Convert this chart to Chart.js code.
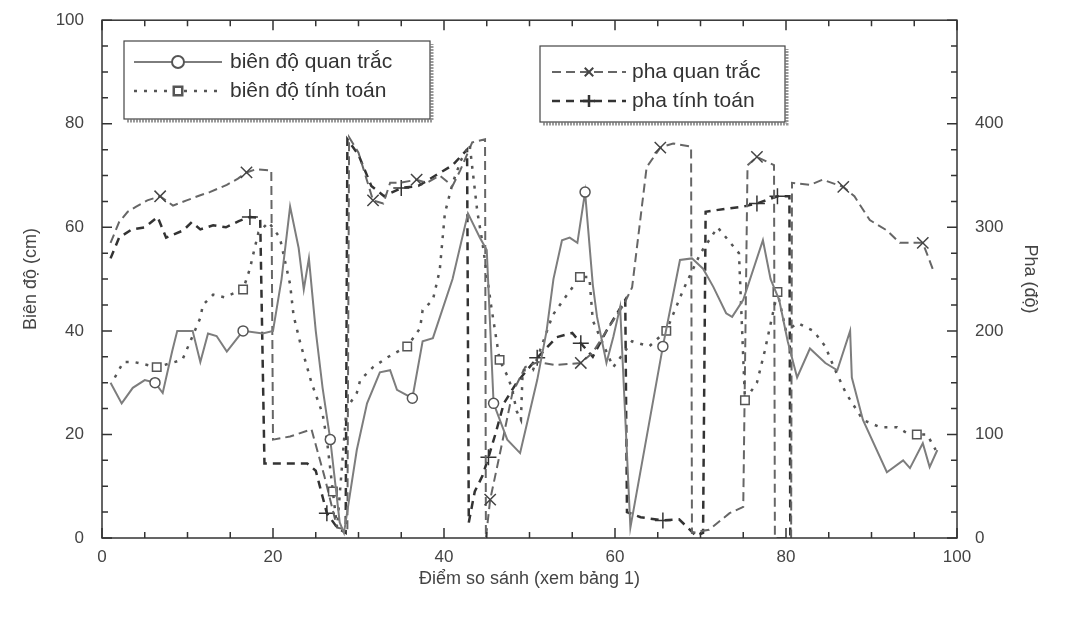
<!DOCTYPE html>
<html>
<head>
<meta charset="utf-8">
<script src="https://cdn.jsdelivr.net/npm/chart.js@4"></script>
<style>
  html, body { margin: 0; padding: 0; background: #fff; }
</style>
</head>
<body>
<canvas id="phaseChart" width="1073" height="621"></canvas>
<script>
// biên độ quan trắc (cm)
const ampObsX = [1, 2.3, 3.6, 5, 6.2, 7.1, 8.2, 8.8, 10.6, 11.5, 12.4, 13.4, 14.6, 16.5, 18.8,
  20, 21, 22, 23, 23.6, 24.2, 25, 25.8, 26.7, 27.8, 28.3, 29.8, 31, 32.5, 33.7,
  34.5, 36.3, 37.5, 38.7, 41, 42.8, 44.2, 45, 45.8, 47.4, 48.9, 50.9, 52, 52.8, 53.8,
  54.7, 55.6, 56.5, 57.4, 57.9, 59, 59.8, 60.6, 61.8, 65.6, 67.6, 69, 70.3, 71.5, 73,
  73.7, 75, 77.3, 78.2, 79.2, 80.2, 81.3, 82.8, 84.6, 86, 87.5, 87.7, 89, 91.8, 93.7,
  94.5, 96, 96.8, 97.7];
const ampObs = [30, 26, 29, 30.5, 30, 28, 36, 40, 40, 34, 39.5, 39, 36, 40, 39.5,
  40, 50, 64, 56, 48, 54, 40, 29, 19, 3, 1, 17, 26, 32, 32.4,
  28.6, 27, 38, 38.6, 50, 62.7, 58, 55.6, 26, 19, 16.4, 30.5, 40, 50, 57.5,
  58, 57, 66.8, 49, 42.7, 33.8, 38.8, 44.6, 2, 37, 53.7, 54, 52, 48.5, 43.4,
  42.7, 46, 57.5, 50, 46, 38, 31, 36.6, 33.8, 32.4, 40, 31, 22.8, 12.7, 15,
  13.5, 18.3, 13.7, 17];

// biên độ tính toán (cm)
const ampCalcX = [1.5, 2.5, 3.7, 6.4, 9.4, 11.5, 11.8, 13, 14.3, 16.5, 17.3, 17.8, 18.3, 19.5, 20.8,
  22, 22.4, 23.2, 24.5, 25.8, 26.3, 27, 27.5, 28.6, 29.8, 30.2, 31.7, 33.5, 35.7, 37.2,
  37.5, 38.7, 39.5, 40.1, 41, 42, 43, 43.9, 44.5, 45.5, 46.5, 47.5, 48, 48.5, 49,
  49.2, 50.4, 52.7, 53.8, 55.9, 57, 57.4, 59.8, 62, 64, 66, 68, 70, 72, 74.5,
  75.2, 76.6, 77.5, 79, 80, 81.4, 83.2, 84.6, 85.6, 87, 89, 91, 93, 94.5, 95.3,
  96.5, 97.5];
const ampCalc = [31, 34, 34, 33, 34.4, 42.5, 45, 47, 46.5, 48, 52, 55.6, 59, 61, 58,
  49, 43, 37.6, 30, 24, 19, 9, 2, 25, 28, 30.5, 33, 35, 37, 40.5,
  44, 46, 51.7, 62.7, 68.5, 73, 76, 63, 57, 45, 34.4, 31, 28.5, 24.5, 22.8,
  32.4, 32.4, 43, 45.6, 50.4, 50.4, 42, 33, 38, 37, 40, 48, 55, 60, 55,
  26.6, 30, 36, 47.5, 40, 41.5, 40, 37, 33, 28, 22.8, 21.4, 21.4, 19.9, 20,
  20, 17];

// pha quan trắc (độ)
const phaseObsX = [1, 2, 3, 4, 5.3, 6.8, 8.3, 9.9, 11.5, 12.6, 14.6, 15.9, 16.9, 18, 19.8,
  20, 22, 24.5, 26, 27.5, 28.7, 28.9, 30, 31, 31.7, 32.9, 33.7, 34.9, 36.8, 38,
  39.5, 41, 41.9, 43.3, 44.8, 44.9, 45.4, 46.5, 48, 49.5, 51, 53, 56, 57.4, 59,
  61, 62, 63.7, 65.3, 66.8, 68.9, 69, 71, 73.4, 75, 75.5, 76.6, 78.6, 78.7, 80.6,
  80.7, 82.8, 84.3, 86.7, 88, 89.8, 91.8, 93.3, 96, 97.2];
const phaseObs = [285, 305, 315, 320, 326, 330, 321, 326, 331, 334, 341, 347, 353, 356, 355,
  95, 98, 105, 60, 10, 8, 387, 372, 345, 326, 323, 343, 343, 346, 343,
  350, 340, 355, 382, 385, 0, 37, 80, 140, 165, 170, 167, 169, 179, 200,
  225, 242, 358, 377, 381, 378, 5, 8, 24, 30, 360, 368, 360, 0, 0,
  343, 341, 346, 339, 330, 307, 297, 285, 285, 259];

// pha tính toán (độ)
const phaseCalcX = [1, 2, 3.5, 5, 6.5, 7.5, 9.5, 10.5, 11.5, 13, 14.5, 16, 17.3, 18.5, 19,
  20, 24, 25, 26.3, 27.5, 28.5, 28.7, 30, 31.5, 33, 35, 37, 39, 41, 42.7,
  42.9, 43.6, 44.5, 45.2, 46, 47, 48.5, 50.9, 53.2, 55, 56, 57.4, 59, 61.2, 61.4,
  63, 65.6, 67.5, 69.5, 70.3, 70.6, 73, 75, 76.6, 79, 80.4, 80.5];
const phaseCalc = [270, 290, 298, 300, 310, 290, 297, 305, 298, 302, 300, 306, 310, 309, 72,
  72, 72, 65, 24, 10, 5, 385, 370, 340, 330, 338, 340, 350, 360, 375,
  15, 45, 60, 78, 100, 130, 150, 174, 194, 198, 188, 175, 200, 230, 25,
  20, 17, 18, 2, 5, 315, 318, 320, 323, 330, 330, 0];

const xTicks = [0, 20, 40, 60, 80, 100];

const toPoints = (xs, ys) => xs.map((x, i) => ({ x: x, y: ys[i] }));
const markAt = (idx, r) => ctx => (idx.includes(ctx.dataIndex) ? r : 0);

const textColor = '#444';
const fontName = "'Liberation Sans', Arial, sans-serif";

// khung, vạch chia nhỏ hướng vào trong
const frameTicks = {
  id: 'frameTicks',
  afterDraw(chart) {
    const { ctx, chartArea: a, scales } = chart;
    ctx.save();
    ctx.strokeStyle = '#333';
    ctx.lineWidth = 1.5;
    ctx.strokeRect(a.left, a.top, a.right - a.left, a.bottom - a.top);
    ctx.beginPath();
    for (let v = 0; v <= 100; v += 5) {
      const px = scales.x.getPixelForValue(v);
      const len = v % 20 === 0 ? 10 : 6;
      ctx.moveTo(px, a.bottom); ctx.lineTo(px, a.bottom - len);
      ctx.moveTo(px, a.top); ctx.lineTo(px, a.top + len);
      const py = scales.y.getPixelForValue(v);
      ctx.moveTo(a.left, py); ctx.lineTo(a.left + len, py);
    }
    for (let v = 0; v <= 500; v += 25) {
      const py = scales.y2.getPixelForValue(v);
      const len = v % 100 === 0 ? 10 : 6;
      ctx.moveTo(a.right, py); ctx.lineTo(a.right - len, py);
    }
    ctx.stroke();
    ctx.restore();
  }
};

// hai hộp chú thích trong vùng vẽ
const boxLegend = {
  id: 'boxLegend',
  afterDraw(chart) {
    const { ctx } = chart;
    const boxes = [
      { x: 124, y: 41, w: 306, h: 78, sets: [0, 1], rows: [62, 91], s0: 134, s1: 222, tx: 230 },
      { x: 540, y: 46, w: 245, h: 76, sets: [2, 3], rows: [72, 101], s0: 552, s1: 626, tx: 632 }
    ];
    ctx.save();
    boxes.forEach(b => {
      ctx.fillStyle = '#fff';
      ctx.fillRect(b.x, b.y, b.w, b.h);
      ctx.strokeStyle = '#999';
      ctx.lineWidth = 3;
      ctx.setLineDash([2, 1]);
      ctx.beginPath();
      ctx.moveTo(b.x + 3, b.y + b.h + 2); ctx.lineTo(b.x + b.w + 2, b.y + b.h + 2);
      ctx.lineTo(b.x + b.w + 2, b.y + 3);
      ctx.stroke();
      ctx.setLineDash([]);
      ctx.strokeStyle = '#444';
      ctx.lineWidth = 1.2;
      ctx.strokeRect(b.x, b.y, b.w, b.h);
      b.sets.forEach((di, k) => {
        const ds = chart.data.datasets[di];
        const y = b.rows[k];
        ctx.strokeStyle = ds.borderColor;
        ctx.lineWidth = ds.borderWidth;
        ctx.setLineDash(ds.borderDash || []);
        ctx.beginPath();
        ctx.moveTo(b.s0, y); ctx.lineTo(b.s1, y);
        ctx.stroke();
        ctx.setLineDash([]);
        ctx.strokeStyle = ds.pointBorderColor;
        ctx.fillStyle = '#fff';
        Chart.helpers.drawPoint(ctx, {
          pointStyle: ds.pointStyle, radius: 6, rotation: 0, borderWidth: ds.pointBorderWidth
        }, (b.s0 + b.s1) / 2, y);
        ctx.fillStyle = '#333';
        ctx.font = '21px ' + fontName;
        ctx.textBaseline = 'middle';
        ctx.fillText(ds.label, b.tx, y);
      });
    });
    ctx.restore();
  }
};

new Chart(document.getElementById('phaseChart').getContext('2d'), {
  type: 'line',
  data: {
    datasets: [
      {
        label: 'biên độ quan trắc',
        data: toPoints(ampObsX, ampObs),
        yAxisID: 'y',
        borderColor: '#7d7d7d', borderWidth: 2,
        pointStyle: 'circle', pointBorderColor: '#555', pointBorderWidth: 1.5, pointBackgroundColor: '#fff',
        pointRadius: markAt([4, 13, 23, 31, 38, 47, 54], 5)
      },
      {
        label: 'biên độ tính toán',
        data: toPoints(ampCalcX, ampCalc),
        yAxisID: 'y',
        borderColor: '#555', borderWidth: 2.5, borderDash: [3, 7],
        pointStyle: 'rect', pointBorderColor: '#555', pointBorderWidth: 1.5, pointBackgroundColor: '#fff',
        pointRadius: markAt([3, 9, 21, 28, 40, 49, 55, 60, 63, 74], 6)
      },
      {
        label: 'pha quan trắc',
        data: toPoints(phaseObsX, phaseObs),
        yAxisID: 'y2',
        borderColor: '#666', borderWidth: 2, borderDash: [9, 5],
        pointStyle: 'crossRot', pointBorderColor: '#444', pointBorderWidth: 1.5, pointBackgroundColor: '#fff',
        pointRadius: markAt([5, 12, 24, 28, 36, 42, 48, 56, 63, 68], 8)
      },
      {
        label: 'pha tính toán',
        data: toPoints(phaseCalcX, phaseCalc),
        yAxisID: 'y2',
        borderColor: '#333', borderWidth: 2.5, borderDash: [8, 6],
        pointStyle: 'cross', pointBorderColor: '#333', pointBorderWidth: 1.5, pointBackgroundColor: '#fff',
        pointRadius: markAt([12, 18, 25, 33, 37, 40, 46, 53, 54], 8)
      }
    ]
  },
  options: {
    responsive: false,
    animation: false,
    devicePixelRatio: 1,
    layout: { padding: { top: 20, left: 0, right: 0, bottom: 0 } },
    elements: { line: { tension: 0 }, point: { hoverRadius: 0 } },
    plugins: { legend: { display: false }, tooltip: { enabled: false } },
    scales: {
      x: {
        type: 'linear', min: 0, max: 100,
        afterBuildTicks: s => { s.ticks = xTicks.map(v => ({ value: v })); },
        ticks: { color: textColor, font: { family: fontName, size: 17 }, padding: 1 },
        grid: { display: false },
        border: { display: false },
        title: {
          display: true, text: 'Điểm so sánh (xem bảng 1)', color: textColor,
          font: { family: fontName, size: 18 }, padding: { bottom: 31 }
        },
        afterFit: s => { s.height = 83; }
      },
      y: {
        position: 'left', min: 0, max: 100,
        ticks: { stepSize: 20, color: textColor, font: { family: fontName, size: 17 }, padding: 10 },
        grid: { display: false },
        border: { display: false },
        title: {
          display: true, text: 'Biên độ (cm)', color: textColor,
          font: { family: fontName, size: 18 }, padding: { top: 20 }
        },
        afterFit: s => { s.width = 102; }
      },
      y2: {
        position: 'right', min: 0, max: 500,
        ticks: {
          stepSize: 100, color: textColor, font: { family: fontName, size: 17 }, padding: 10,
          callback: v => (v === 500 ? '' : v)
        },
        grid: { display: false },
        border: { display: false },
        title: {
          display: true, text: 'Pha (độ)', color: textColor,
          font: { family: fontName, size: 18 }, padding: { top: 32 }
        },
        afterFit: s => { s.width = 116; }
      }
    }
  },
  plugins: [frameTicks, boxLegend]
});
</script>
</body>
</html>
